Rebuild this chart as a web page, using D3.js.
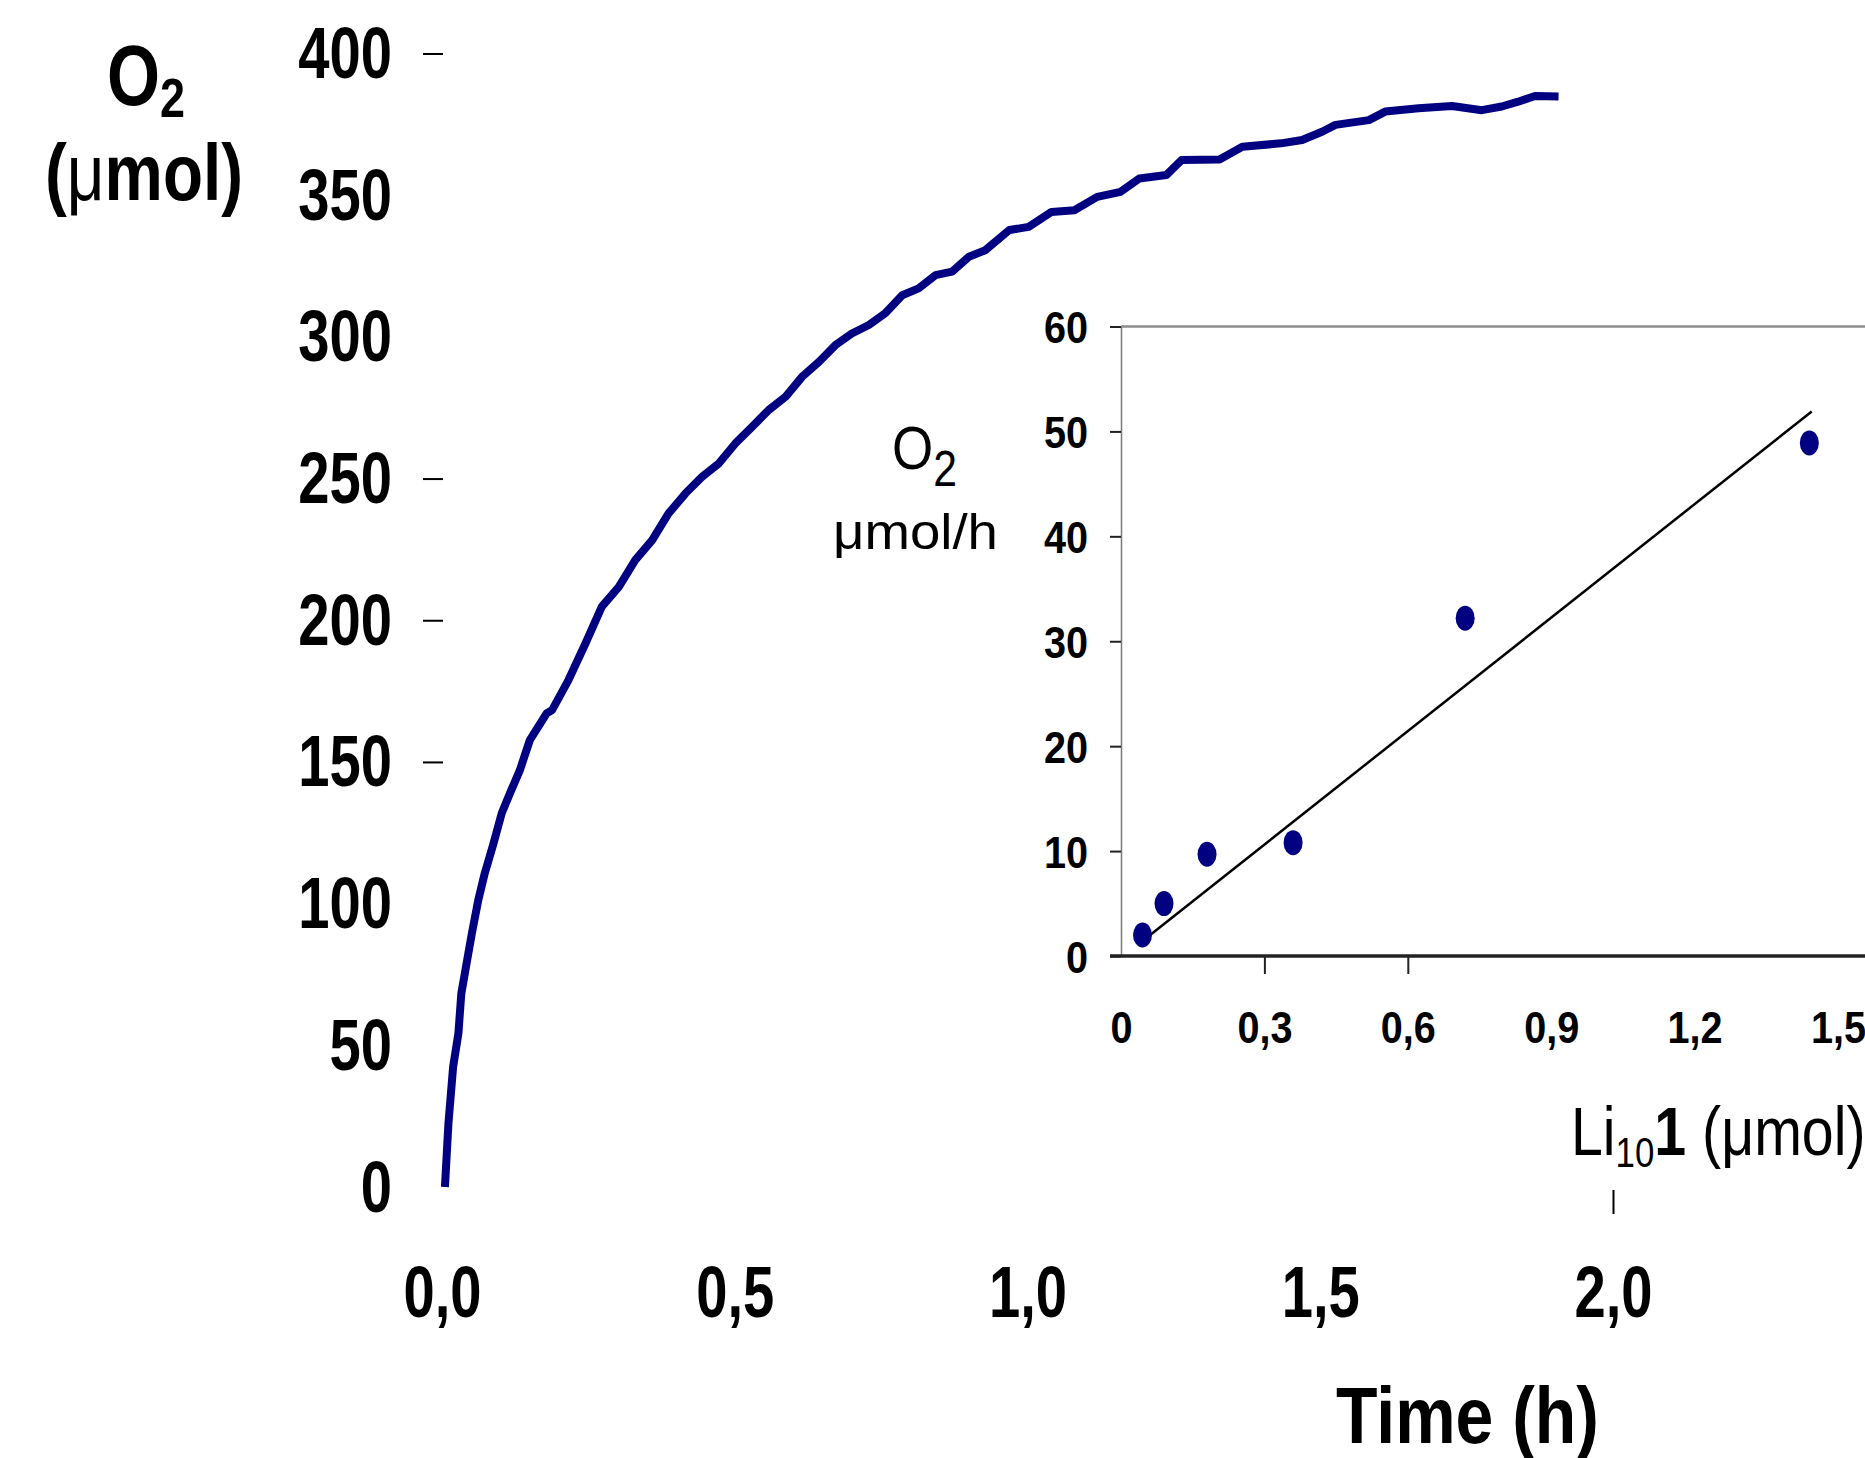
<!DOCTYPE html>
<html>
<head>
<meta charset="utf-8">
<script src="https://cdn.jsdelivr.net/npm/d3@7"></script>
<style>
  html, body { margin: 0; padding: 0; background: #fff; }
  svg { display: block; }
</style>
</head>
<body>
<svg id="chart" width="1865" height="1458"></svg>
<script>
// ---------- DATA ----------
// Main curve: O2 evolved (µmol) vs time (h)
const timeH = [0.005, 0.011, 0.019, 0.028, 0.033, 0.042, 0.051, 0.062, 0.073, 0.088,
  0.102, 0.116, 0.133, 0.150, 0.179, 0.188, 0.216, 0.245, 0.273, 0.302,
  0.330, 0.359, 0.387, 0.416, 0.444, 0.473, 0.501, 0.530, 0.558, 0.587,
  0.615, 0.644, 0.672, 0.700, 0.729, 0.757, 0.786, 0.814, 0.843, 0.871,
  0.900, 0.928, 0.969, 1.002, 1.041, 1.080, 1.119, 1.159, 1.191, 1.237,
  1.263, 1.328, 1.367, 1.433, 1.469, 1.503, 1.526, 1.583, 1.611, 1.668,
  1.725, 1.776, 1.810, 1.838, 1.867, 1.907];
const o2Umol = [0, 22.5, 42.4, 54.2, 68.3, 78.9, 89.5, 101.3, 110.7, 121.3,
  131.9, 138.9, 147.1, 157.7, 167.2, 168.3, 178.9, 191.8, 204.8, 211.8,
  221.2, 228.3, 237.7, 244.8, 250.6, 255.4, 262.4, 268.3, 274.2, 278.9,
  285.9, 291.2, 297.1, 301.2, 304.2, 308.3, 314.7, 317.1, 321.8, 323.0,
  328.3, 330.6, 337.7, 338.8, 344.1, 344.7, 349.4, 351.2, 355.9, 357.1,
  362.4, 362.6, 367.1, 368.3, 369.5, 372.4, 374.8, 376.5, 379.5, 380.7,
  381.5, 380.0, 381.3, 383.0, 385.0, 384.8];

const mainYTickLabels = [0, 50, 100, 150, 200, 250, 300, 350, 400];
const mainYTickMarks = [150, 200, 250, 400];
const mainXTickLabels = [0, 0.5, 1.0, 1.5, 2.0];
const mainXTickMarks = [2.0];

// Inset: O2 rate (µmol/h) vs Li10-1 (µmol)
const insetLi = [0.045, 0.09, 0.18, 0.36, 0.72, 1.44];
const insetRate = [2.0, 5.0, 9.7, 10.8, 32.2, 48.9];
const trendLi = [0.047, 1.445];
const trendRate = [1.5, 51.9];
const insetYTicks = [0, 10, 20, 30, 40, 50, 60];
const insetXTickLabels = [0, 0.3, 0.6, 0.9, 1.2, 1.5];
const insetXTickMarks = [0.3, 0.6];

// ---------- SETUP ----------
const FONT = '"Liberation Sans", Arial, Helvetica, sans-serif';
const NAVY = '#000080';
const svg = d3.select('#chart');
svg.append('rect').attr('width', 1865).attr('height', 1458).attr('fill', '#fff');

// text helper: parts = [{t, size, weight, dy}] dy = baseline offset from main baseline
function addText(parent, x, y, parts, opts) {
  const g = parent.append('g');
  const t = g.append('text')
    .attr('text-anchor', opts.anchor || 'start')
    .style('font-family', FONT)
    .attr('fill', '#000');
  let cur = 0;
  parts.forEach(p => {
    const off = p.dy || 0;
    const ts = t.append('tspan').text(p.t)
      .style('font-size', (p.size || opts.size) + 'px')
      .style('font-weight', p.weight || opts.weight || 'normal');
    if (off !== cur) { ts.attr('dy', off - cur); cur = off; }
  });
  let sx = opts.sx || 1;
  if (opts.width) {
    const w = t.node().getComputedTextLength();
    sx = opts.width / w;
  }
  g.attr('transform', `translate(${x},${y}) scale(${sx},1)`);
  return g;
}

const commaFmt = d => d3.format('.1f')(d).replace('.', ',');

// ---------- MAIN CHART ----------
const x = d3.scaleLinear().domain([0, 2]).range([442, 1613]);
const y = d3.scaleLinear().domain([0, 400]).range([1187, 53.5]);

// Y tick marks (only some visible)
const yMarks = svg.append('g').attr('transform', 'translate(443,0)')
  .call(d3.axisLeft(y).tickValues(mainYTickMarks).tickSize(20).tickFormat(''));
yMarks.select('.domain').remove();
yMarks.selectAll('.tick line').attr('stroke', '#000').attr('stroke-width', 2);

// Y tick labels
const yLab = svg.append('g').attr('transform', 'translate(443,0)')
  .call(d3.axisLeft(y).tickValues(mainYTickLabels).tickSize(0).tickFormat(d3.format('d')));
yLab.select('.domain').remove();
yLab.selectAll('.tick line').remove();
yLab.selectAll('.tick text')
  .attr('x', 0).attr('dy', null)
  .attr('transform', 'translate(-51,24) scale(0.78,1)')
  .style('font-family', FONT).style('font-size', '72px').style('font-weight', 'bold')
  .attr('fill', '#000').attr('text-anchor', 'end');

// X tick marks
const xMarks = svg.append('g').attr('transform', 'translate(0,1190)')
  .call(d3.axisBottom(x).tickValues(mainXTickMarks).tickSize(24).tickFormat(''));
xMarks.select('.domain').remove();
xMarks.selectAll('.tick line').attr('stroke', '#000').attr('stroke-width', 2);

// X tick labels
const xLab = svg.append('g').attr('transform', 'translate(0,1190)')
  .call(d3.axisBottom(x).tickValues(mainXTickLabels).tickSize(0).tickFormat(commaFmt));
xLab.select('.domain').remove();
xLab.selectAll('.tick line').remove();
xLab.selectAll('.tick text')
  .attr('y', 0).attr('dy', null)
  .attr('transform', 'translate(0,127) scale(0.78,1)')
  .style('font-family', FONT).style('font-size', '72px').style('font-weight', 'bold')
  .attr('fill', '#000').attr('text-anchor', 'middle');

// Main curve
const curveData = timeH.map((t, i) => [t, o2Umol[i]]);
svg.append('path')
  .datum(curveData)
  .attr('fill', 'none')
  .attr('stroke', NAVY)
  .attr('stroke-width', 8)
  .attr('stroke-linejoin', 'round')
  .attr('d', d3.line().x(d => x(d[0])).y(d => y(d[1])));

// Axis titles
addText(svg, 107, 105, [
  { t: 'O', size: 85, weight: 'bold' },
  { t: '2', size: 56, weight: 'bold', dy: 12 }
], { width: 78 });
addText(svg, 45, 200, [
  { t: '(', weight: 'bold' },
  { t: 'μ', weight: 'normal' },
  { t: 'mol)', weight: 'bold' }
], { size: 80, width: 198 });
addText(svg, 1336, 1443, [{ t: 'Time (h)' }], { size: 80, weight: 'bold', width: 263 });

// ---------- INSET ----------
const ix = d3.scaleLinear().domain([0, 1.56]).range([1121, 1866.7]);
const iy = d3.scaleLinear().domain([0, 60]).range([956, 326.5]);

// top border line
svg.append('line')
  .attr('x1', ix(0)).attr('x2', ix(1.56))
  .attr('y1', iy(60)).attr('y2', iy(60))
  .attr('stroke', '#8c8c8c').attr('stroke-width', 2.5);

// y axis
const iyAx = svg.append('g').attr('transform', `translate(${ix(0)},0)`)
  .call(d3.axisLeft(iy).tickValues(insetYTicks).tickSize(11).tickSizeOuter(0).tickPadding(22).tickFormat(d3.format('d')));
iyAx.select('.domain').attr('stroke', '#7a7a7a').attr('stroke-width', 1.5);
iyAx.selectAll('.tick line').attr('stroke', '#222').attr('stroke-width', 2);
iyAx.selectAll('.tick text')
  .attr('x', 0).attr('dy', null)
  .attr('transform', 'translate(-33,16) scale(0.9,1)')
  .style('font-family', FONT).style('font-size', '44px').style('font-weight', 'bold')
  .attr('fill', '#000').attr('text-anchor', 'end');

// x axis line (thick)
svg.append('line')
  .attr('x1', ix(0) - 11).attr('x2', ix(1.56))
  .attr('y1', iy(0)).attr('y2', iy(0))
  .attr('stroke', '#222').attr('stroke-width', 3.5);

const ixMarks = svg.append('g').attr('transform', `translate(0,${iy(0)})`)
  .call(d3.axisBottom(ix).tickValues(insetXTickMarks).tickSize(18).tickFormat(''));
ixMarks.select('.domain').remove();
ixMarks.selectAll('.tick line').attr('stroke', '#222').attr('stroke-width', 2);

const ixLab = svg.append('g').attr('transform', `translate(0,${iy(0)})`)
  .call(d3.axisBottom(ix).tickValues(insetXTickLabels).tickSize(0)
    .tickFormat(d => d === 0 ? '0' : commaFmt(d)));
ixLab.select('.domain').remove();
ixLab.selectAll('.tick line').remove();
ixLab.selectAll('.tick text')
  .attr('y', 0).attr('dy', null)
  .attr('transform', 'translate(0,87) scale(0.9,1)')
  .style('font-family', FONT).style('font-size', '44px').style('font-weight', 'bold')
  .attr('fill', '#000').attr('text-anchor', 'middle');

// trend line
svg.append('line')
  .attr('x1', ix(trendLi[0])).attr('y1', iy(trendRate[0]))
  .attr('x2', ix(trendLi[1])).attr('y2', iy(trendRate[1]))
  .attr('stroke', '#000').attr('stroke-width', 2.5);

// points
svg.append('g').selectAll('ellipse')
  .data(insetLi.map((v, i) => [v, insetRate[i]]))
  .join('ellipse')
  .attr('cx', d => ix(d[0])).attr('cy', d => iy(d[1]))
  .attr('rx', 9.5).attr('ry', 12.5)
  .attr('fill', NAVY);

// inset labels
addText(svg, 892, 469, [
  { t: 'O', size: 62 },
  { t: '2', size: 50, dy: 17 }
], { width: 65 });
addText(svg, 833, 549, [{ t: 'μmol/h' }], { size: 50, width: 165 });
addText(svg, 1571, 1155, [
  { t: 'Li', size: 69 },
  { t: '10', size: 42, dy: 12 },
  { t: '1', size: 69, weight: 'bold', dy: 0 },
  { t: ' (μmol)', size: 69 }
], { sx: 0.83 });
</script>
</body>
</html>
